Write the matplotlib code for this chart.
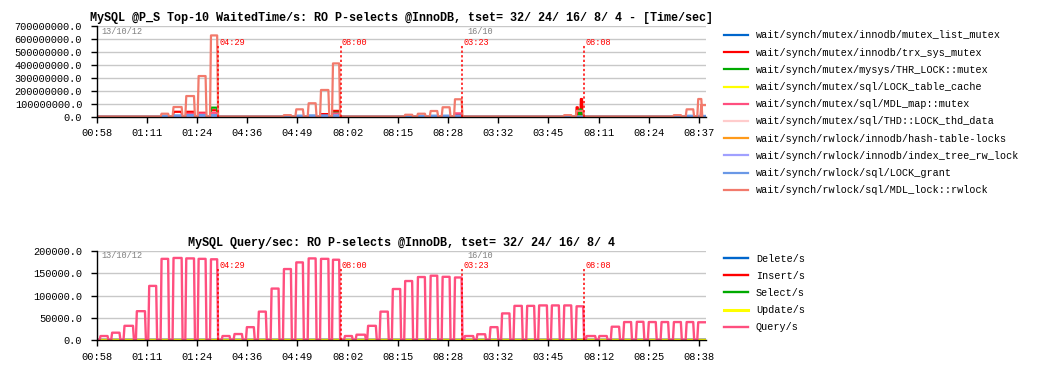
import numpy as np
import matplotlib
matplotlib.use("Agg")
from matplotlib import pyplot as plt

# time axis: minutes since the first sample (13 min per tick)
xMax = 157.8
tickPos = [0, 13, 26, 39, 52, 65, 78, 91, 104, 117, 130, 143, 156]
tickTop = ['00:58', '01:11', '01:24', '04:36', '04:49', '08:02', '08:15',
           '08:28', '03:32', '03:45', '08:11', '08:24', '08:37']
tickBot = ['00:58', '01:11', '01:24', '04:36', '04:49', '08:02', '08:15',
           '08:28', '03:32', '03:45', '08:12', '08:25', '08:38']

# test start markers
markPos = [31.5, 63.2, 94.7, 126.3]
markLbl = ['04:29', '08:00', '03:23', '08:08']
datePos = [1.3, 95.9]
dateLbl = ['13/10/12', '16/10']

# Query/s plateaus (start min, end min, qps)
qStart = [1.0, 4.0, 7.2, 10.4, 13.6, 16.8, 19.9, 23.2, 26.4, 29.6,
          32.6, 35.7, 38.9, 42.0, 45.3, 48.5, 51.7, 54.9, 58.1, 61.2,
          64.3, 67.3, 70.3, 73.5, 76.7, 79.9, 83.2, 86.5, 89.6, 92.8,
          95.4, 98.6, 102.0, 105.0, 108.2, 111.5, 114.6, 117.9, 121.1, 124.3,
          126.9, 130.2, 133.4, 136.6, 139.9, 143.0, 146.3, 149.5, 152.8, 155.8]
qEnd = [2.8, 5.9, 9.4, 12.5, 15.4, 18.5, 22.0, 25.2, 28.2, 31.2,
        34.4, 37.6, 40.7, 43.8, 47.1, 50.3, 53.4, 56.7, 60.0, 62.8,
        66.1, 69.5, 72.3, 75.4, 78.6, 81.7, 85.0, 88.2, 91.4, 94.5,
        97.5, 100.6, 103.8, 106.9, 110.1, 113.3, 116.6, 119.7, 122.9, 126.0,
        129.1, 132.1, 135.3, 138.4, 141.6, 144.8, 148.0, 151.3, 154.5, 158.5]
qLevel = [9000, 16500, 32000, 65000, 122000, 183000, 185000, 184000, 183000, 182000,
          9000, 13500, 29000, 64000, 116000, 160000, 175000, 184000, 183000, 181000,
          9000, 12000, 32000, 64000, 115000, 133000, 142000, 145000, 142500, 141000,
          9000, 13000, 29000, 60000, 77000, 77000, 78000, 78000, 78000, 76000,
          9000, 9000, 30000, 40500, 41000, 40500, 40500, 40500, 40500, 40000]

# MDL_lock::rwlock plateaus
mdlStart = [16.8, 19.9, 23.2, 26.4, 29.6, 48.5, 51.7, 54.9, 58.1, 61.2,
            79.9, 83.2, 86.5, 89.6, 92.8, 121.1, 124.3, 149.5, 152.8, 155.8, 156.6]
mdlEnd = [18.5, 22.0, 25.2, 28.2, 31.2, 50.3, 53.4, 56.7, 60.0, 62.8,
          81.7, 85.0, 88.2, 91.4, 94.5, 122.9, 126.0, 151.3, 154.5, 156.6, 158.5]
mdlLevel = [23e6, 75e6, 160e6, 315e6, 630e6, 12e6, 57e6, 104e6, 207e6, 413e6,
            15e6, 23e6, 44e6, 73e6, 135e6, 12e6, 45e6, 12e6, 57e6, 137e6, 90e6]

# trx_sys_mutex
trxStart = [19.9, 23.2, 26.4, 29.6, 58.1, 61.2, 92.8, 124.3, 125.4]
trxEnd = [22.0, 25.2, 28.2, 31.2, 60.0, 62.8, 94.5, 124.6, 125.7]
trxLevel = [38e6, 38e6, 30e6, 50e6, 20e6, 45e6, 20e6, 73e6, 137e6]

# THR_LOCK::mutex
thrStart = [29.6, 61.2, 125.0]
thrEnd = [31.2, 62.8, 125.5]
thrLevel = [70e6, 30e6, 55e6]

# MDL_map::mutex
mapStart = [23.2, 26.4, 29.6, 61.2, 92.8]
mapEnd = [25.2, 28.2, 31.2, 62.8, 94.5]
mapLevel = [22e6, 25e6, 30e6, 25e6, 26e6]

# LOCK_grant
grantStart = [16.8, 19.9, 23.2, 26.4, 29.6, 48.5, 51.7, 54.9, 58.1, 61.2,
              79.9, 83.2, 86.5, 89.6, 92.8, 121.1, 149.5, 152.8, 155.8]
grantEnd = [18.5, 22.0, 25.2, 28.2, 31.2, 50.3, 53.4, 56.7, 60.0, 62.8,
            81.7, 85.0, 88.2, 91.4, 94.5, 122.9, 151.3, 154.5, 158.5]
grantLevel = [8e6, 10e6, 12e6, 12e6, 12e6, 6e6, 8e6, 10e6, 10e6, 10e6,
              5e6, 6e6, 8e6, 8e6, 8e6, 5e6, 5e6, 7e6, 6e6]


def steps(starts, ends, levels, ramp=0.25):
    xs = [0.0]
    ys = [0.0]
    for s, e, v in zip(starts, ends, levels):
        xs += [s - ramp, s, e, e + ramp]
        ys += [0, v, v, 0]
    xs.append(xMax + 1)
    ys.append(0)
    return np.array(xs), np.array(ys)


zero = (np.array([0, xMax + 1]), np.array([0, 0]))

topNames = ['wait/synch/mutex/innodb/mutex_list_mutex',
            'wait/synch/mutex/innodb/trx_sys_mutex',
            'wait/synch/mutex/mysys/THR_LOCK::mutex',
            'wait/synch/mutex/sql/LOCK_table_cache',
            'wait/synch/mutex/sql/MDL_map::mutex',
            'wait/synch/mutex/sql/THD::LOCK_thd_data',
            'wait/synch/rwlock/innodb/hash-table-locks',
            'wait/synch/rwlock/innodb/index_tree_rw_lock',
            'wait/synch/rwlock/sql/LOCK_grant',
            'wait/synch/rwlock/sql/MDL_lock::rwlock']
topColors = ['#0066cc', '#ff0000', '#00aa00', '#ffff00', '#ff4f7f',
             '#ffcccc', '#ff9a1a', '#a0a0ff', '#6a98e6', '#f27a6c']
botNames = ['Delete/s', 'Insert/s', 'Select/s', 'Update/s', 'Query/s']
botColors = ['#0066cc', '#ff0000', '#00aa00', '#ffff00', '#ff4f7f']

topData = [zero,
           steps(trxStart, trxEnd, trxLevel, 0.1),
           steps(thrStart, thrEnd, thrLevel, 0.1),
           zero,
           steps(mapStart, mapEnd, mapLevel),
           zero, zero, zero,
           steps(grantStart, grantEnd, grantLevel),
           steps(mdlStart, mdlEnd, mdlLevel)]
botData = [zero, zero, zero, zero, steps(qStart, qEnd, qLevel)]

mono = 'Liberation Mono'
plt.rcParams['font.family'] = mono

fig = plt.figure(figsize=(10.42, 3.77), dpi=100)
axTop = fig.add_axes([0.0928, 0.6905, 0.5847, 0.2395])
axBot = fig.add_axes([0.0928, 0.0981, 0.5847, 0.2353])


def style(ax, ymax, yticks, xlabels):
    ax.set_xlim(0, xMax)
    ax.set_ylim(0, ymax)
    ax.set_yticks(yticks)
    ax.set_yticklabels(['%.1f' % v for v in yticks])
    ax.set_xticks(tickPos)
    ax.set_xticklabels(xlabels)
    ax.spines['top'].set_visible(False)
    ax.spines['right'].set_visible(False)
    ax.spines['left'].set_linewidth(1)
    ax.spines['bottom'].set_linewidth(1)
    ax.grid(axis='y', color='#c8c8c8', linewidth=1)
    ax.set_axisbelow(True)
    ax.tick_params(axis='x', length=4.5, width=1, pad=4, labelsize=7.5)
    ax.tick_params(axis='y', length=4, width=1, pad=6.5, labelsize=7.4)


style(axTop, 7e8, [0, 1e8, 2e8, 3e8, 4e8, 5e8, 6e8, 7e8], tickTop)
style(axBot, 2e5, [0, 50000, 100000, 150000, 200000], tickBot)

for (x, y), c, n in zip(topData, topColors, topNames):
    axTop.plot(x, y, color=c, lw=1.6, label=n, clip_on=True)
for (x, y), c, n in zip(botData, botColors, botNames):
    axBot.plot(x, y, color=c, lw=2.2 if n == 'Update/s' else 1.7, label=n)

for ax, top, lblY, dateY in [(axTop, 5.55e8, 5.77e8, 6.57e8),
                             (axBot, 1.6e5, 1.673e5, 1.898e5)]:
    for p, l in zip(markPos, markLbl):
        ax.plot([p, p], [0, top], color='#ff0000', lw=1.1, ls=(0, (1.5, 1.5)))
        ax.text(p + 0.3, lblY, l, color='#ff0000', fontsize=6.2, va='center', ha='left')
    for p, l in zip(datePos, dateLbl):
        ax.text(p, dateY, l, color='#808080', fontsize=6.2, va='center', ha='left')

fig.text(0.385, 0.952, 'MySQL @P_S Top-10 WaitedTime/s: RO P-selects @InnoDB, tset= 32/ 24/ 16/ 8/ 4 - [Time/sec]',
         ha='center', va='center', fontsize=8.45, fontweight='bold')
fig.text(0.385, 0.355, 'MySQL Query/sec: RO P-selects @InnoDB, tset= 32/ 24/ 16/ 8/ 4',
         ha='center', va='center', fontsize=8.45, fontweight='bold')

legOpts = dict(loc='upper left', frameon=False, fontsize=7.3, handlelength=2.35,
               handletextpad=0.8, borderpad=0, borderaxespad=0, labelspacing=0.71)
fig.legend(*axTop.get_legend_handles_labels(), bbox_to_anchor=(724 / 1042, 1 - 30.5 / 377), **legOpts)
fig.legend(*axBot.get_legend_handles_labels(), bbox_to_anchor=(724 / 1042, 1 - 253.5 / 377), **legOpts)

plt.savefig('out.png', dpi=100)
